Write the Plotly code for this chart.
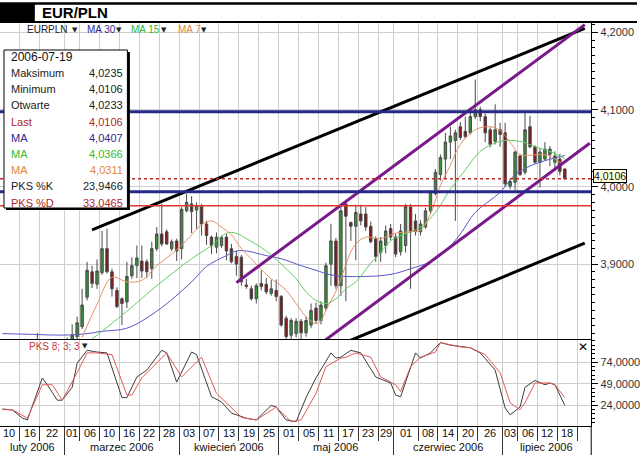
import numpy as np
import pandas as pd
import plotly.graph_objects as go

# ------------------------------------------------------------------ data
START = "2006-02-10"
dates = pd.bdate_range(START, "2006-07-19").strftime("%Y-%m-%d").tolist()

opens = [3.785, 3.790, 3.786, 3.780, 3.784, 3.792, 3.788, 3.798, 3.795, 3.786, 3.790, 3.784, 3.789,
         3.795, 3.798, 3.806, 3.819, 3.857, 3.890, 3.874, 3.889, 3.920, 3.890, 3.866, 3.855, 3.851,
         3.885, 3.898, 3.904, 3.903, 3.894, 3.920, 3.939, 3.942, 3.920, 3.930,
         3.920, 3.969, 3.978, 3.970, 3.975, 3.952, 3.935, 3.922, 3.924, 3.935, 3.920, 3.910, 3.909,
         3.873, 3.868, 3.855, 3.875, 3.874, 3.862, 3.866,
         3.858, 3.830, 3.808, 3.810, 3.826, 3.811, 3.821, 3.843, 3.827, 3.843, 3.900, 3.930, 3.872,
         3.978, 3.954, 3.949, 3.965, 3.965, 3.949, 3.933, 3.915, 3.924, 3.946,
         3.935, 3.916, 3.924, 3.974, 3.956, 3.942, 3.948, 3.969, 3.991, 4.016, 4.036, 4.058, 4.060,
         4.078, 4.072, 4.070, 4.091, 4.100, 4.091, 4.074, 4.059, 4.074,
         4.070, 4.001, 4.006, 4.040, 4.019, 4.078, 4.052, 4.032, 4.036, 4.042, 4.032, 4.036, 4.0233]
highs = [3.795, 3.798, 3.792, 3.789, 3.796, 3.800, 3.802, 3.811, 3.800, 3.794, 3.797, 3.793, 3.799,
         3.805, 3.822, 3.832, 3.868, 3.903, 3.898, 3.906, 3.943, 3.946, 3.894, 3.870, 3.857, 3.903,
         3.909, 3.924, 3.924, 3.906, 3.929, 3.948, 3.978, 3.945, 3.932, 3.933,
         3.974, 3.991, 3.988, 3.980, 3.978, 3.956, 3.937, 3.941, 3.937, 3.939, 3.926, 3.917, 3.912,
         3.881, 3.872, 3.875, 3.892, 3.882, 3.880, 3.880,
         3.860, 3.833, 3.830, 3.830, 3.829, 3.832, 3.849, 3.850, 3.852, 3.902, 3.952, 3.934, 3.975,
         3.982, 3.955, 3.977, 3.977, 3.974, 3.955, 3.936, 3.935, 3.950, 3.952,
         3.939, 3.952, 3.978, 3.978, 3.965, 3.957, 3.973, 3.996, 4.023, 4.042, 4.070, 4.078, 4.074,
         4.084, 4.091, 4.096, 4.139, 4.104, 4.095, 4.077, 4.107, 4.083,
         4.083, 4.010, 4.047, 4.042, 4.096, 4.092, 4.054, 4.050, 4.058, 4.053, 4.046, 4.043, 4.0235]
lows = [3.778, 3.782, 3.776, 3.772, 3.780, 3.785, 3.784, 3.790, 3.782, 3.778, 3.780, 3.776, 3.783,
        3.788, 3.795, 3.802, 3.816, 3.853, 3.869, 3.868, 3.886, 3.888, 3.858, 3.843, 3.821, 3.843,
        3.881, 3.882, 3.882, 3.882, 3.881, 3.917, 3.923, 3.925, 3.917, 3.904,
        3.906, 3.967, 3.940, 3.945, 3.937, 3.925, 3.913, 3.914, 3.921, 3.905, 3.901, 3.885, 3.872,
        3.868, 3.853, 3.849, 3.866, 3.861, 3.859, 3.852,
        3.819, 3.800, 3.803, 3.805, 3.803, 3.806, 3.817, 3.823, 3.822, 3.840, 3.872, 3.868, 3.859,
        3.852, 3.930, 3.905, 3.950, 3.943, 3.927, 3.903, 3.903, 3.914, 3.931,
        3.909, 3.911, 3.915, 3.868, 3.937, 3.937, 3.946, 3.966, 3.989, 4.008, 4.012, 4.036, 3.956,
        4.061, 4.063, 4.068, 4.088, 4.085, 4.058, 4.051, 4.055, 4.052,
        4.000, 3.997, 3.996, 4.014, 4.016, 4.050, 4.030, 3.999, 4.034, 4.027, 4.023, 4.015, 4.0106]
closes = [3.790, 3.786, 3.780, 3.784, 3.792, 3.788, 3.798, 3.795, 3.786, 3.790, 3.784, 3.789, 3.795,
          3.800, 3.808, 3.824, 3.847, 3.892, 3.875, 3.891, 3.920, 3.890, 3.868, 3.845, 3.849, 3.884,
          3.898, 3.908, 3.891, 3.890, 3.920, 3.939, 3.926, 3.926, 3.929, 3.917,
          3.971, 3.980, 3.968, 3.976, 3.952, 3.937, 3.924, 3.935, 3.935, 3.917, 3.903, 3.900, 3.877,
          3.871, 3.855, 3.872, 3.871, 3.864, 3.868, 3.858,
          3.821, 3.806, 3.827, 3.826, 3.811, 3.827, 3.840, 3.827, 3.847, 3.898, 3.930, 3.872, 3.969,
          3.962, 3.949, 3.967, 3.956, 3.948, 3.929, 3.910, 3.930, 3.943, 3.935,
          3.913, 3.943, 3.975, 3.942, 3.942, 3.952, 3.969, 3.993, 4.019, 4.038, 4.058, 4.066, 4.070,
          4.064, 4.065, 4.091, 4.100, 4.091, 4.070, 4.055, 4.074, 4.068,
          4.004, 4.007, 4.045, 4.016, 4.074, 4.052, 4.032, 4.045, 4.049, 4.049, 4.040, 4.020, 4.0106]

# moving averages (sample points)
ma30_dates = ["2006-02-10", "2006-02-20", "2006-02-28", "2006-03-07", "2006-03-10", "2006-03-17",
              "2006-03-27", "2006-04-05", "2006-04-10", "2006-04-14", "2006-04-18", "2006-04-20",
              "2006-04-26", "2006-05-01", "2006-05-05", "2006-05-10", "2006-05-15", "2006-05-18",
              "2006-05-24", "2006-05-29", "2006-06-01", "2006-06-06", "2006-06-12", "2006-06-15",
              "2006-06-20", "2006-06-23", "2006-06-30", "2006-07-05", "2006-07-10", "2006-07-13",
              "2006-07-19"]
ma30_vals = [3.810, 3.809, 3.808, 3.810, 3.813, 3.817, 3.839, 3.877, 3.897, 3.911, 3.917, 3.917,
             3.911, 3.907, 3.898, 3.892, 3.886, 3.884, 3.884, 3.885, 3.888, 3.894, 3.903, 3.917,
             3.939, 3.967, 3.993, 4.016, 4.027, 4.034, 4.0407]

ma15_dates = ["2006-03-08", "2006-03-10", "2006-03-17", "2006-03-27", "2006-04-05", "2006-04-11",
              "2006-04-14", "2006-04-18", "2006-04-20", "2006-04-26", "2006-05-01", "2006-05-04",
              "2006-05-08", "2006-05-10", "2006-05-12", "2006-05-16", "2006-05-18", "2006-05-22",
              "2006-05-25", "2006-05-29", "2006-05-31", "2006-06-02", "2006-06-08", "2006-06-13",
              "2006-06-16", "2006-06-21", "2006-06-26", "2006-06-30", "2006-07-06", "2006-07-11",
              "2006-07-14", "2006-07-19"]
ma15_vals = [3.803, 3.813, 3.839, 3.872, 3.907, 3.924, 3.940, 3.940, 3.933, 3.917, 3.900, 3.881,
             3.864, 3.853, 3.849, 3.855, 3.868, 3.877, 3.901, 3.915, 3.930, 3.937, 3.948, 3.967,
             3.997, 4.022, 4.046, 4.059, 4.059, 4.052, 4.046, 4.0366]

ma7_dates = ["2006-03-06", "2006-03-09", "2006-03-14", "2006-03-17", "2006-03-22", "2006-03-27",
             "2006-03-30", "2006-04-04", "2006-04-07", "2006-04-11", "2006-04-13", "2006-04-17",
             "2006-04-19", "2006-04-21", "2006-04-25", "2006-04-27", "2006-05-01", "2006-05-02",
             "2006-05-04", "2006-05-08", "2006-05-10", "2006-05-11", "2006-05-12", "2006-05-16",
             "2006-05-17", "2006-05-19", "2006-05-22", "2006-05-24", "2006-05-29", "2006-06-01",
             "2006-06-06", "2006-06-08", "2006-06-12", "2006-06-14", "2006-06-16", "2006-06-20",
             "2006-06-23", "2006-06-28", "2006-06-30", "2006-07-04", "2006-07-06", "2006-07-10",
             "2006-07-12", "2006-07-14", "2006-07-18", "2006-07-19"]
ma7_vals = [3.805, 3.848, 3.883, 3.877, 3.879, 3.898, 3.913, 3.931, 3.951, 3.956, 3.948, 3.938,
            3.920, 3.907, 3.893, 3.881, 3.872, 3.866, 3.849, 3.832, 3.823, 3.827, 3.840, 3.865,
            3.881, 3.916, 3.926, 3.935, 3.933, 3.940, 3.942, 3.944, 3.965, 4.002, 4.028, 4.055,
            4.074, 4.078, 4.073, 4.058, 4.042, 4.041, 4.042, 4.040, 4.032, 4.0311]

# stochastic PKS 8;3;3 (sample points)
pk_dates = ["2006-02-10", "2006-02-14", "2006-02-16", "2006-02-17", "2006-02-22", "2006-02-23",
            "2006-02-27", "2006-02-28", "2006-03-02", "2006-03-03", "2006-03-07", "2006-03-09",
            "2006-03-13", "2006-03-16", "2006-03-17", "2006-03-21", "2006-03-23", "2006-03-28",
            "2006-03-29", "2006-03-31", "2006-04-05", "2006-04-06", "2006-04-11", "2006-04-13",
            "2006-04-17", "2006-04-20", "2006-04-24", "2006-04-27", "2006-04-28", "2006-05-02",
            "2006-05-04", "2006-05-08", "2006-05-10", "2006-05-15", "2006-05-16", "2006-05-17",
            "2006-05-19", "2006-05-23", "2006-05-26", "2006-05-31", "2006-06-01", "2006-06-02",
            "2006-06-07", "2006-06-08", "2006-06-12", "2006-06-14", "2006-06-16", "2006-06-22",
            "2006-06-26", "2006-06-29", "2006-07-03", "2006-07-04", "2006-07-06", "2006-07-07",
            "2006-07-11", "2006-07-13", "2006-07-14", "2006-07-17", "2006-07-18", "2006-07-19"]
pk_vals = [19.8, 18.6, 9.3, 7.0, 55.8, 48, 30, 30, 45, 73, 88, 86, 85, 33, 33, 57, 65, 88, 85, 51,
           86, 83, 34, 28, 15, 9, 7, 24, 22, 7, 5, 33, 56, 85, 79, 80, 88, 85, 57, 50, 36, 34,
           85, 79, 85, 97, 94, 91, 85, 65, 21, 13, 22, 45, 53, 48, 50, 48, 36, 23.9466]

pd_dates = ["2006-02-10", "2006-02-14", "2006-02-17", "2006-02-22", "2006-02-24", "2006-02-28",
            "2006-03-03", "2006-03-07", "2006-03-09", "2006-03-14", "2006-03-17", "2006-03-20",
            "2006-03-22", "2006-03-29", "2006-04-03", "2006-04-07", "2006-04-12", "2006-04-14",
            "2006-04-19", "2006-04-24", "2006-04-28", "2006-05-03", "2006-05-05", "2006-05-10",
            "2006-05-12", "2006-05-17", "2006-05-18", "2006-05-22", "2006-05-25", "2006-05-29",
            "2006-06-01", "2006-06-02", "2006-06-06", "2006-06-08", "2006-06-13", "2006-06-14",
            "2006-06-20", "2006-06-22", "2006-06-27", "2006-06-30", "2006-07-04", "2006-07-06",
            "2006-07-07", "2006-07-11", "2006-07-14", "2006-07-17", "2006-07-19"]
pd_vals = [19, 19, 9, 48, 48, 30, 62, 85, 85, 83, 36, 36, 56, 85, 57, 80, 38, 27, 10, 7, 22, 5, 7,
           38, 69, 79, 80, 85, 80, 57, 48, 40, 69, 80, 86, 97, 92, 91, 83, 62, 27, 19, 27, 50, 50,
           48, 33.0465]

# trend lines (end points)
trend_black_hi = (["2006-03-08", "2006-07-25"], [3.9443, 4.2053])
trend_black_lo = (["2006-05-11", "2006-07-25"], [3.7854, 3.9273])
trend_purple_hi = (["2006-04-18", "2006-07-25"], [3.8760, 4.2102])
trend_purple_lo = (["2006-05-10", "2006-07-26"], [3.7926, 4.0565])
level_navy = [4.0975, 3.9938]
level_red = 3.9755
last_price = 4.0106

# axis labels
tick_dates = ["2006-02-10", "2006-02-16", "2006-02-22", "2006-03-01", "2006-03-06", "2006-03-10",
              "2006-03-16", "2006-03-22", "2006-03-28", "2006-04-03", "2006-04-07", "2006-04-13",
              "2006-04-19", "2006-04-25", "2006-05-01", "2006-05-05", "2006-05-11", "2006-05-17",
              "2006-05-23", "2006-05-29", "2006-06-01", "2006-06-08", "2006-06-14", "2006-06-20",
              "2006-06-26", "2006-07-03", "2006-07-06", "2006-07-12", "2006-07-18"]
tick_text = ["10", "16", "22", "01", "06", "10", "16", "22", "28", "03", "07", "13", "19", "25",
             "01", "05", "11", "17", "23", "29", "01", "08", "14", "20", "26", "03", "06", "12", "18"]
next_tick_date = "2006-07-24"
month_starts = ["2006-03-01", "2006-04-03", "2006-05-01", "2006-06-01", "2006-07-03"]
month_names = ["luty 2006", "marzec 2006", "kwiecień 2006", "maj 2006", "czerwiec 2006", "lipiec 2006"]

info_date = "2006-07-19"
info_labels = ["Maksimum", "Minimum", "Otwarte", "Last", "MA", "MA", "MA", "PKS %K", "PKS %D"]
info_values = ["4,0235", "4,0106", "4,0233", "4,0106", "4,0407", "4,0366", "4,0311", "23,9466", "33,0465"]
info_colors = ["#222222", "#222222", "#222222", "#b0282a", "#2a2a90", "#33bb33", "#e08a3c", "#222222", "#b0282a"]

# ------------------------------------------------------------------ helpers
W, H = 640, 455
def PX(x): return x / W
def PY(y): return 1 - y / H
def bx(d): return int(np.busday_count(START, d))

X0, X1 = -0.5, 118.3
XD = [0, PX(594)]
Y1D = [PY(339), PY(23)]
Y2D = [PY(426), PY(340)]
FONT = "Liberation Sans, Arial, sans-serif"

fig = go.Figure()

fig.add_trace(go.Candlestick(
    x=[bx(d) for d in dates], open=opens, high=highs, low=lows, close=closes,
    increasing=dict(line=dict(color="#4a4a4a", width=1), fillcolor="#339433"),
    decreasing=dict(line=dict(color="#4a4a4a", width=1), fillcolor="#851616"),
    whiskerwidth=0, showlegend=False, hoverinfo="skip", xaxis="x", yaxis="y"))

def line(xd, yv, color, width, dash="solid", shape="linear", xa="x", ya="y"):
    fig.add_trace(go.Scatter(x=[bx(d) for d in xd], y=yv, mode="lines",
                             line=dict(color=color, width=width, dash=dash, shape=shape),
                             showlegend=False, hoverinfo="skip", xaxis=xa, yaxis=ya))

line(ma30_dates, ma30_vals, "#5858c8", 1, shape="spline")
line(ma15_dates, ma15_vals, "#66cc66", 1, shape="spline")
line(ma7_dates, ma7_vals, "#e8906a", 1, shape="spline")

line(*trend_black_hi, "#000000", 3)
line(*trend_black_lo, "#000000", 3)
line(*trend_purple_hi, "#7a1a8a", 3)
line(*trend_purple_lo, "#7a1a8a", 3)

for lv in level_navy:
    fig.add_trace(go.Scatter(x=[X0, X1], y=[lv, lv], mode="lines", line=dict(color="#28288a", width=3),
                             showlegend=False, hoverinfo="skip"))
fig.add_trace(go.Scatter(x=[X0, X1], y=[level_red, level_red], mode="lines",
                         line=dict(color="#e3352c", width=1.5), showlegend=False, hoverinfo="skip"))
fig.add_trace(go.Scatter(x=[X0, X1], y=[last_price, last_price], mode="lines",
                         line=dict(color="#c0282a", width=1.5, dash="dot"), showlegend=False, hoverinfo="skip"))

line(pk_dates, pk_vals, "#3c3c3c", 1, xa="x2", ya="y2")
line(pd_dates, pd_vals, "#e05a5a", 1, xa="x2", ya="y2")

# ------------------------------------------------------------------ axes
month_seps = [bx(d) - 0.5 for d in month_starts]
all_seps = [bx(d) - 0.5 for d in tick_dates] + [bx(next_tick_date) - 0.5]
minor_seps = [s for s in all_seps if s not in month_seps and s > X0]
GRID = "#cfcfcf"

common_x = dict(domain=XD, range=[X0, X1], tickmode="array", tickvals=month_seps,
                showticklabels=False, showgrid=True, gridcolor=GRID, gridwidth=1, zeroline=False,
                showline=True, linecolor="#000000", linewidth=1)
fig.update_layout(
    xaxis=dict(**common_x, anchor="y", ticks="",
               minor=dict(tickmode="array", tickvals=minor_seps, showgrid=True, gridcolor=GRID, ticks=""),
               rangeslider=dict(visible=False)),
    xaxis2=dict(**common_x, anchor="y2", ticks="outside", ticklen=29, tickwidth=1, tickcolor="#333333",
                minor=dict(tickmode="array", tickvals=minor_seps, showgrid=True, gridcolor=GRID,
                           ticks="outside", ticklen=14, tickwidth=1, tickcolor="#333333")),
    yaxis=dict(domain=Y1D, range=[3.803, 4.2123], anchor="x", side="right",
               tickmode="array", tickvals=[3.9, 4.0, 4.1, 4.2], tickformat=".4f",
               ticks="outside", ticklen=6, tickcolor="#000000", showline=True, linecolor="#000000",
               linewidth=1, showgrid=True, gridcolor=GRID, zeroline=False,
               tickfont=dict(size=11, color="#333333"),
               minor=dict(dtick=0.01, tick0=3.9, ticks="outside", ticklen=3, tickcolor="#000000", showgrid=False)),
    yaxis2=dict(domain=Y2D, range=[0, 100], anchor="x2", side="right",
                tickmode="array", tickvals=[24, 49, 74], tickformat=".4f",
                ticks="outside", ticklen=6, tickcolor="#000000", showline=True, linecolor="#000000",
                linewidth=1, showgrid=True, gridcolor=GRID, zeroline=False,
                tickfont=dict(size=11, color="#333333"),
                minor=dict(dtick=5, tick0=4, ticks="outside", ticklen=3, tickcolor="#000000", showgrid=False)),
)

# ------------------------------------------------------------------ decorations
shapes = [
    dict(type="line", xref="paper", yref="paper", x0=0, x1=1, y0=PY(3.5), y1=PY(3.5),
         line=dict(color="#000", width=2.5)),
    dict(type="rect", xref="paper", yref="paper", x0=0, x1=PX(35), y0=PY(22), y1=PY(3.5),
         fillcolor="#000", line=dict(width=0)),
    dict(type="line", xref="paper", yref="paper", x0=0, x1=1, y0=PY(22), y1=PY(22),
         line=dict(color="#000", width=2)),
    dict(type="line", xref="paper", yref="paper", x0=XD[1], x1=XD[1], y0=0, y1=Y2D[0],
         line=dict(color="#000", width=1)),
    dict(type="rect", xref="paper", yref="paper", x0=PX(6), x1=PX(130.5), y0=PY(210), y1=PY(52),
         fillcolor="#000", line=dict(width=0), layer="above"),
    dict(type="rect", xref="paper", yref="paper", x0=PX(4), x1=PX(128), y0=PY(208), y1=PY(50),
         fillcolor="#ffffff", line=dict(color="#000", width=1), layer="above"),
]
fig.update_layout(shapes=shapes)

ann = []
def txt(x, y, s, size=11, color="#222222", anchor="left", bold=False, family=FONT, xref="paper"):
    ann.append(dict(x=x, y=PY(y), xref=xref, yref="paper", text=("<b>%s</b>" % s) if bold else s,
                    showarrow=False, xanchor=anchor, yanchor="middle",
                    font=dict(size=size, color=color, family=family)))

txt(PX(40), 12.5, "EUR/PLN", size=15, color="#000", bold=True)
txt(PX(25), 30, "EURPLN", size=10, color="#222")
txt(PX(75), 30, "▼", size=7, color="#222", anchor="center", family="DejaVu Sans")
txt(PX(85), 30, "MA 30", size=10, color="#2a2a90")
txt(PX(120), 30, "▼", size=7, color="#222", anchor="center", family="DejaVu Sans")
txt(PX(130), 30, "MA 15", size=10, color="#33bb33")
txt(PX(165), 30, "▼", size=7, color="#222", anchor="center", family="DejaVu Sans")
txt(PX(177), 30, "MA 7", size=10, color="#e08a3c")
txt(PX(205), 30, "▼", size=7, color="#222", anchor="center", family="DejaVu Sans")

txt(PX(9), 57, info_date, size=12, color="#111")
for k, (lab, val, col) in enumerate(zip(info_labels, info_values, info_colors)):
    yy = 73 + k * 16.2
    txt(PX(9), yy, lab, size=11, color=col)
    txt(PX(126), yy, val, size=11, color=col, anchor="right")

ann.append(dict(x=PX(596), y=last_price, xref="paper", yref="y", text="4,0106", showarrow=False,
                xanchor="left", yanchor="middle", yshift=3, bgcolor="#ffffe0", bordercolor="#000",
                borderwidth=1, borderpad=0, font=dict(size=10.5, color="#111", family=FONT)))

txt(PX(27), 346, "PKS 8; 3; 3", size=10, color="#c03a3a")
txt(PX(85), 346, "▼", size=7, color="#222", anchor="center", family="DejaVu Sans")
txt(PX(586), 347, "✕", size=12, color="#000", anchor="center", bold=True, family="DejaVu Sans")

# day labels centred in their cells (the first one hugs the left edge)
cell_edges = all_seps
for k, t in enumerate(tick_text):
    left = max(cell_edges[k], X0)
    right = cell_edges[k + 1]
    if k == 0:
        ann.append(dict(x=X0, y=PY(433), xref="x2", yref="paper", text=t, showarrow=False,
                        xanchor="left", yanchor="middle", xshift=1,
                        font=dict(size=11, color="#111", family=FONT)))
        continue
    ann.append(dict(x=(left + right) / 2, y=PY(433), xref="x2", yref="paper", text=t, showarrow=False,
                    xanchor="center", yanchor="middle", font=dict(size=11, color="#111", family=FONT)))
# month labels
medges = [X0] + month_seps + [X1]
for k, m in enumerate(month_names):
    ann.append(dict(x=(medges[k] + medges[k + 1]) / 2, y=PY(447), xref="x2", yref="paper", text=m,
                    showarrow=False, xanchor="center", yanchor="middle",
                    font=dict(size=11, color="#111", family=FONT)))

fig.update_layout(annotations=ann, width=W, height=H, margin=dict(l=0, r=0, t=0, b=0),
                  paper_bgcolor="#ffffff", plot_bgcolor="#ffffff", separators=", ",
                  font=dict(family=FONT, size=11, color="#222"), showlegend=False, hovermode=False)

fig.write_html("out.html", config={"displayModeBar": False})
